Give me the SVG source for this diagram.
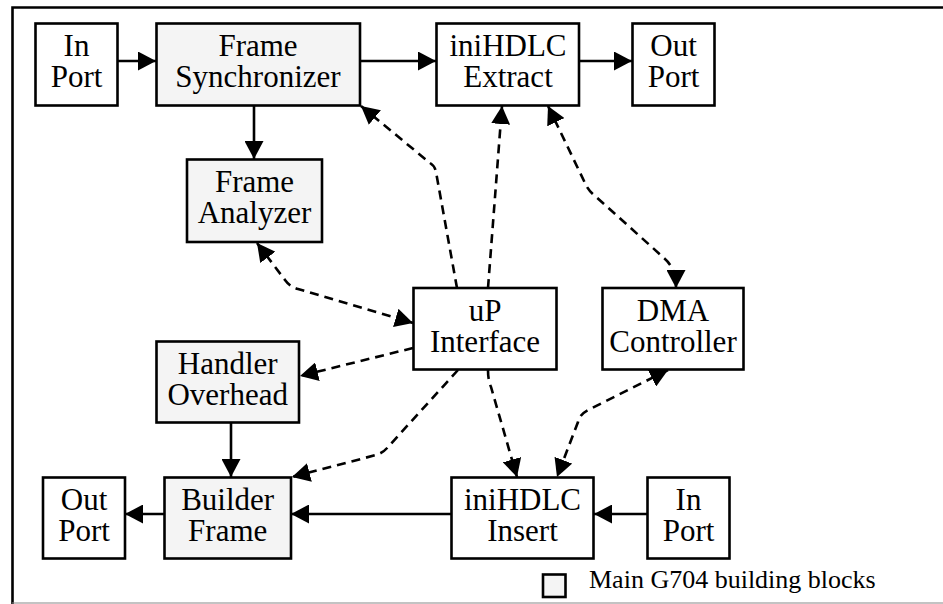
<svg xmlns="http://www.w3.org/2000/svg" width="943" height="604" viewBox="0 0 943 604">
<style>
.box{stroke:#000;stroke-width:2.6;fill:#fff}
.main{fill:#f4f4f4}
.lbl{font-family:"Liberation Serif","Times New Roman",serif;font-size:31px;fill:#000;text-anchor:middle}
.leg{font-family:"Liberation Serif","Times New Roman",serif;font-size:26px;fill:#000}
.solid{stroke:#000;stroke-width:2.6;fill:none;marker-end:url(#ah)}
.dash{stroke:#000;stroke-width:2.6;fill:none;stroke-dasharray:9,6;marker-end:url(#ah)}
.both{marker-start:url(#ah)}
</style>
<defs>
<marker id="ah" markerUnits="userSpaceOnUse" markerWidth="19" markerHeight="19" refX="18" refY="9.5" orient="auto-start-reverse" viewBox="0 0 19 19">
<path d="M0,0 L18,9.5 L0,19 Z" fill="#000"/>
</marker>
</defs>
<rect width="943" height="604" fill="#fff"/>
<path d="M12.5,604 L12.5,7.5 L943,7.5" fill="none" stroke="#000" stroke-width="2.6"/>
<line x1="12" y1="603" x2="943" y2="603" stroke="#888" stroke-width="1.2"/>

<g id="connectors">
<path class="solid" d="M118,61 L156,61"/>
<path class="solid" d="M360,61 L436,61"/>
<path class="solid" d="M579,61 L632,61"/>
<path class="solid" d="M254,106 L254,159"/>
<path class="solid" d="M231,423 L231,477"/>
<path class="solid" d="M164,514 L125,514"/>
<path class="solid" d="M451,514 L291,514"/>
<path class="solid" d="M648,514 L594,514"/>
<path class="dash" d="M457,288 L436,172 Q435,166 430,163 L361,106"/>
<path class="dash" d="M488,288 L502,106"/>
<path class="dash both" d="M548,106 L585,183 Q588,190 594,195 L664,258 Q676,268 676,288"/>
<path class="dash both" d="M257,243 L285,280 Q290,287 298,289 L413,323"/>
<path class="dash" d="M413,348 L300,376"/>
<path class="dash" d="M458,370 L388,447 Q383,453 376,455 L292,477"/>
<path class="dash" d="M488,370 Q488,380 491,387 L517,477"/>
<path class="dash both" d="M668,370 L588,410 Q580,414 578,422 L557,477"/>
</g>

<g id="inport-top"><rect class="box" x="35.5" y="23.5" width="82" height="82"/><text class="lbl"><tspan x="76.5" y="56">In</tspan><tspan x="76.5" y="87">Port</tspan></text></g>
<g id="frame-sync"><rect class="box main" x="156.5" y="23.5" width="203.5" height="82"/><text class="lbl"><tspan x="258" y="56">Frame</tspan><tspan x="258" y="87">Synchronizer</tspan></text></g>
<g id="hdlc-extract"><rect class="box" x="436.5" y="23.5" width="142.5" height="82"/><text class="lbl"><tspan x="508" y="56">iniHDLC</tspan><tspan x="508" y="87">Extract</tspan></text></g>
<g id="outport-top"><rect class="box" x="632.5" y="23.5" width="82" height="82"/><text class="lbl"><tspan x="673.5" y="56">Out</tspan><tspan x="673.5" y="87">Port</tspan></text></g>
<g id="frame-analyzer"><rect class="box main" x="187" y="159.5" width="135" height="82.5"/><text class="lbl"><tspan x="254.5" y="192">Frame</tspan><tspan x="254.5" y="223">Analyzer</tspan></text></g>
<g id="up-interface"><rect class="box" x="413.5" y="288" width="143" height="81.5"/><text class="lbl"><tspan x="485" y="320.5">uP</tspan><tspan x="485" y="351.5">Interface</tspan></text></g>
<g id="dma"><rect class="box" x="602.5" y="288" width="141" height="81.5"/><text class="lbl"><tspan x="673" y="320.5">DMA</tspan><tspan x="673" y="351.5">Controller</tspan></text></g>
<g id="handler-overhead"><rect class="box main" x="156.5" y="341.5" width="142.5" height="81"/><text class="lbl"><tspan x="227.7" y="374">Handler</tspan><tspan x="227.7" y="405">Overhead</tspan></text></g>
<g id="outport-bottom"><rect class="box" x="43" y="477.5" width="82" height="81"/><text class="lbl"><tspan x="84" y="510">Out</tspan><tspan x="84" y="541">Port</tspan></text></g>
<g id="builder-frame"><rect class="box main" x="164.5" y="477.5" width="126.5" height="81"/><text class="lbl"><tspan x="227.7" y="510">Builder</tspan><tspan x="227.7" y="541">Frame</tspan></text></g>
<g id="hdlc-insert"><rect class="box" x="451.5" y="477.5" width="142" height="81"/><text class="lbl"><tspan x="522.5" y="510">iniHDLC</tspan><tspan x="522.5" y="541">Insert</tspan></text></g>
<g id="inport-bottom"><rect class="box" x="647.5" y="477.5" width="82" height="81"/><text class="lbl"><tspan x="688.5" y="510">In</tspan><tspan x="688.5" y="541">Port</tspan></text></g>
<g id="legend"><rect class="box main" x="543" y="574.5" width="22.5" height="22.5"/><text class="leg" x="589" y="588">Main G704 building blocks</text></g>
</svg>
